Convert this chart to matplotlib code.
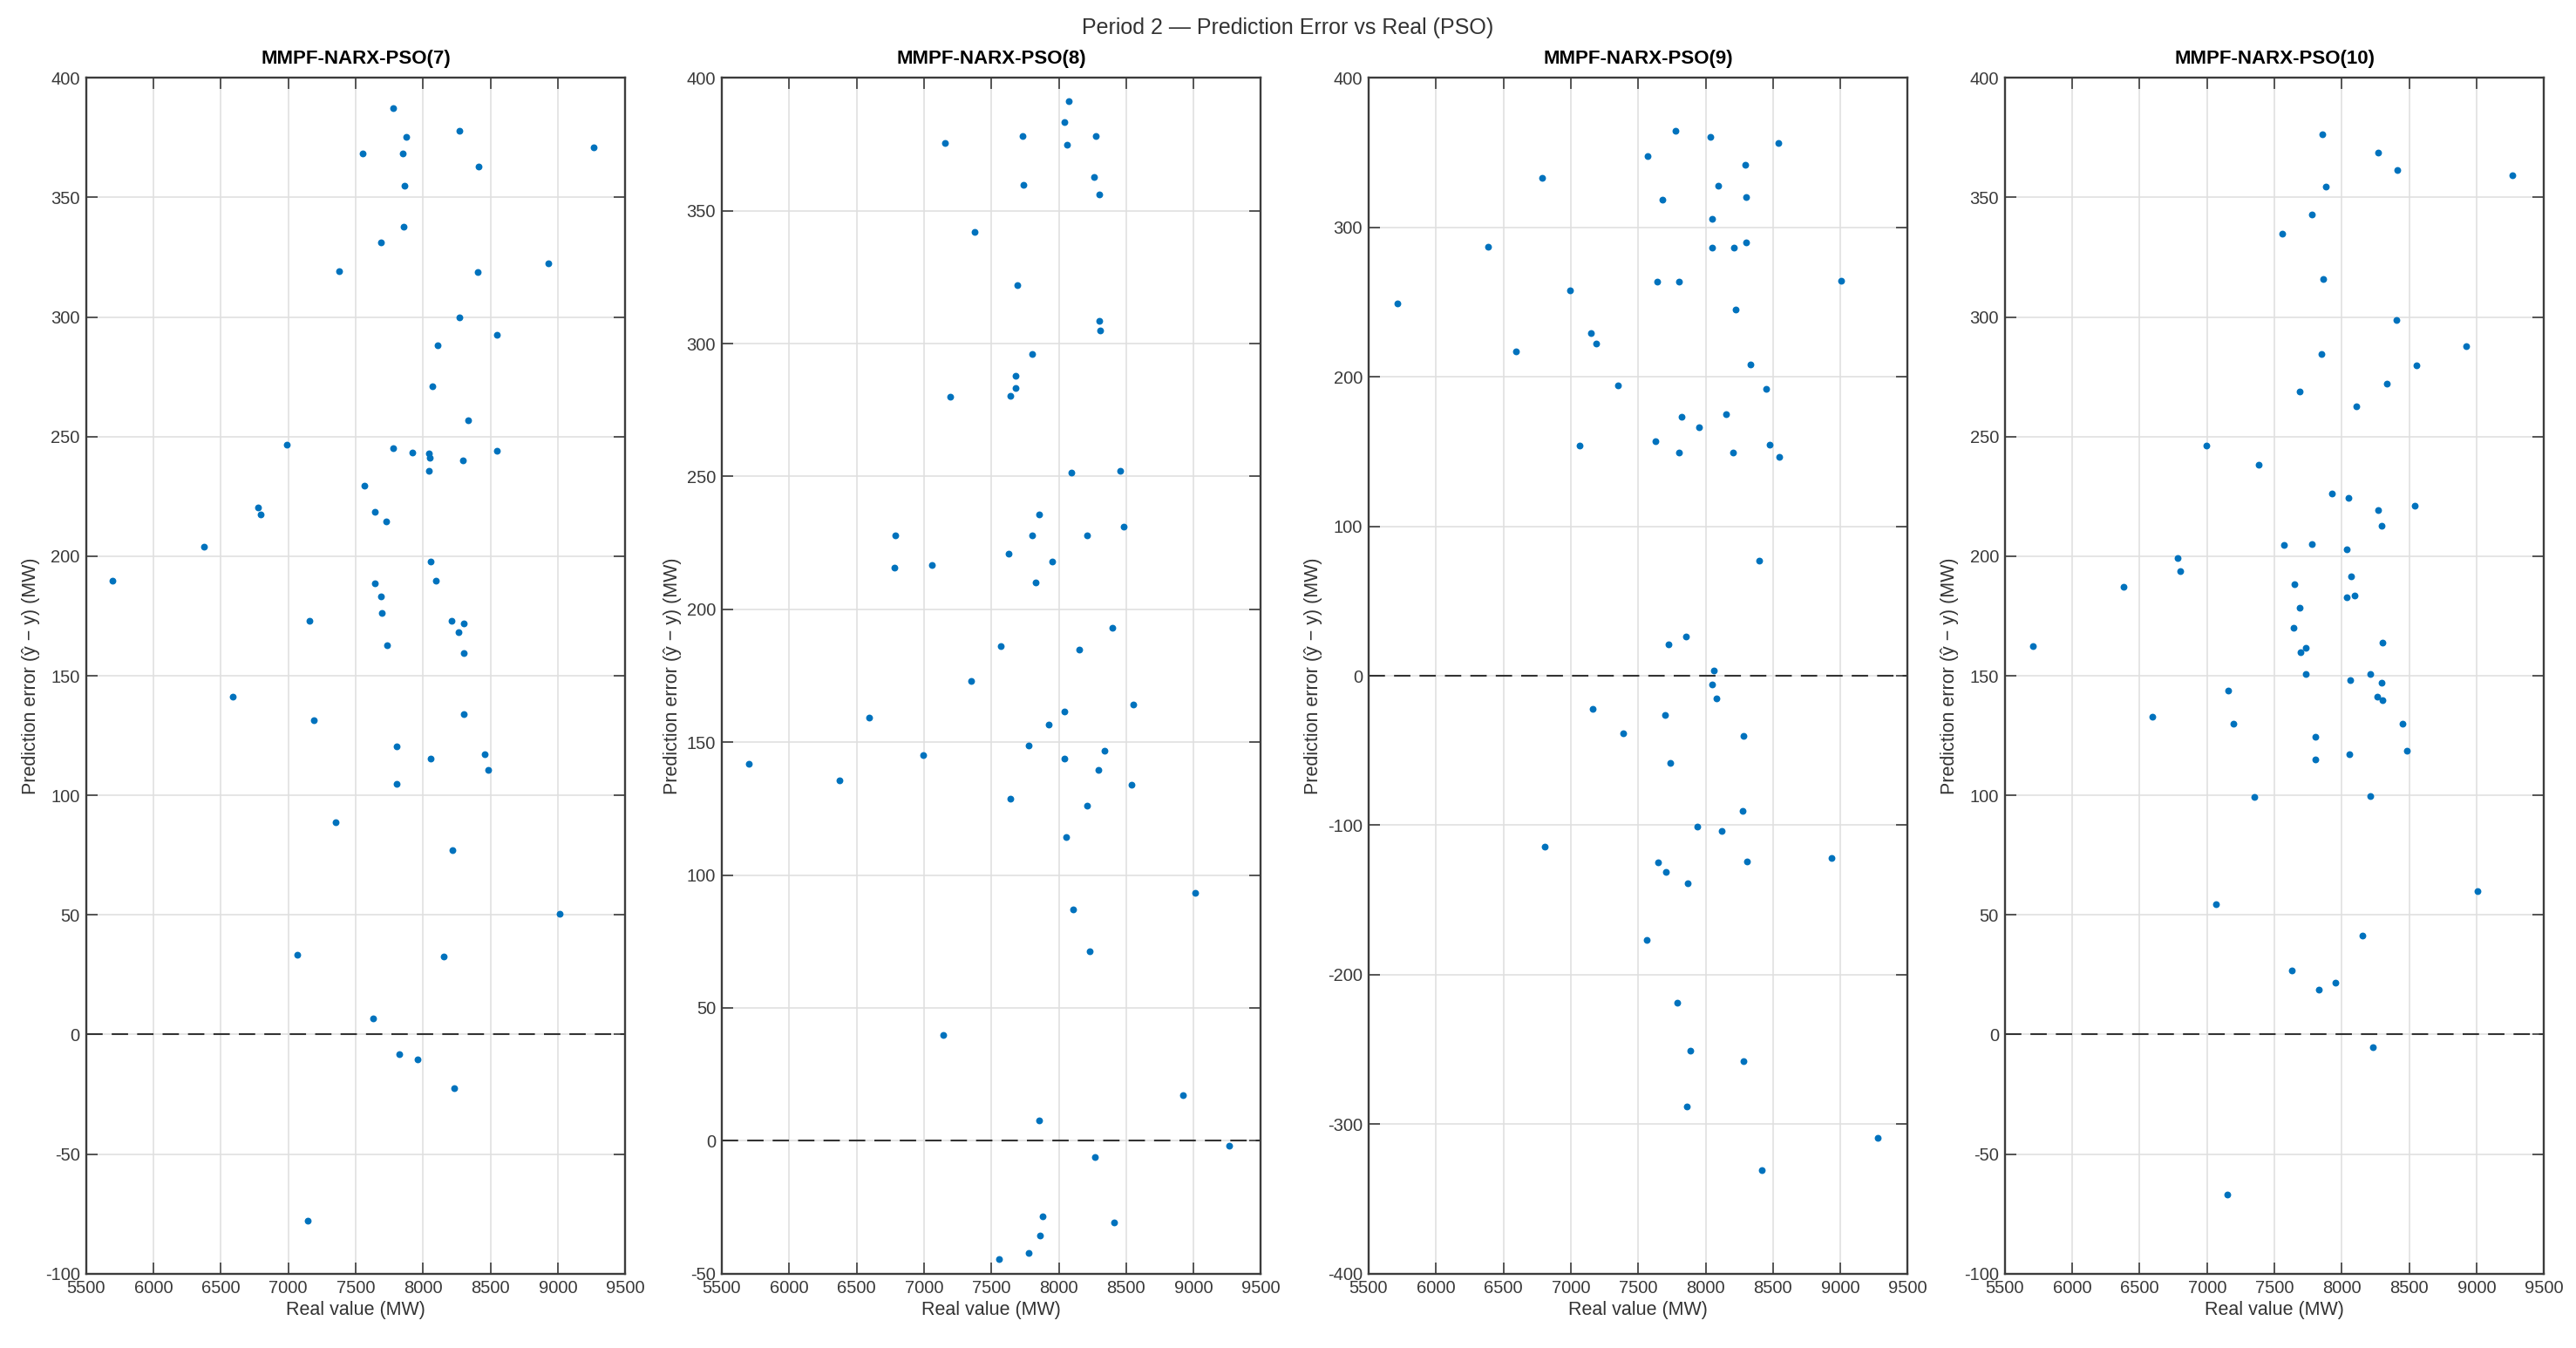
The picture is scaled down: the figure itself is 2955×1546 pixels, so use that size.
"""Period 2 prediction error vs real value, four MMPF-NARX-PSO variants (MATLAB-style panels)."""
import matplotlib
matplotlib.use("Agg")
import matplotlib.pyplot as plt
from matplotlib.ticker import MultipleLocator

plt.rcParams["font.family"] = ["Liberation Sans", "DejaVu Sans"]
plt.rcParams["axes.unicode_minus"] = False  # MATLAB prints a plain hyphen

TITLES = ["MMPF-NARX-PSO(7)", "MMPF-NARX-PSO(8)", "MMPF-NARX-PSO(9)", "MMPF-NARX-PSO(10)"]

x7 = [7780, 8270, 7878, 7555, 7851, 9269, 8415, 7862, 7853, 7688, 7378, 8403, 8928, 8270,
      8551, 8109, 8068, 8336, 6992, 7780, 7922, 8042, 8049, 8042, 8298, 8545, 7568, 6777,
      6796, 7644, 7729, 6376, 8058, 5699, 7641, 8093, 7685, 7694, 7157, 8213, 8302, 8264,
      7736, 8305, 6591, 7192, 8305, 7805, 8055, 8456, 8485, 7805, 7350, 8216, 9013, 7065,
      8153, 7631, 7827, 7957, 8232, 7144]
e7 = [387.3, 378, 375.2, 368.5, 368.3, 371, 363.1, 355.1, 337.8, 331.1, 319.2, 318.8, 322.5, 299.8,
      292.4, 288.1, 271.1, 257, 246.7, 245.3, 243.2, 242.8, 241.3, 235.8, 240, 244, 229.4, 220.3,
      217.5, 218.4, 214.5, 203.9, 197.8, 189.6, 188.8, 189.6, 183.1, 176.2, 172.8, 172.8, 171.9, 168.3,
      162.8, 159.6, 141.1, 131.3, 133.9, 120.3, 115.3, 117.2, 110.7, 104.7, 88.8, 77.1, 50.6, 33.5,
      32.7, 6.8, -8.1, -10.3, -22.5, -78]

x8 = [8071, 8039, 7729, 8273, 8061, 7154, 7735, 8264, 8298, 7378, 7691, 8302, 8305, 7805,
      7682, 7679, 7638, 7192, 8096, 8456, 7853, 8482, 6790, 7802, 8207, 7628, 7951, 7059,
      6781, 7827, 8400, 7571, 8153, 7350, 8551, 6591, 8039, 7925, 7777, 8340, 5699, 6992,
      8045, 8295, 6376, 8542, 7644, 8213, 8055, 9013, 8109, 8229, 7141, 8921, 7853, 9263,
      8270, 7881, 8412, 7859, 7774, 7555]
e8 = [391.1, 383.4, 378, 378.2, 374.8, 375.5, 359.9, 362.6, 356.2, 342.1, 322, 308.6, 305, 296,
      287.8, 283.4, 280.5, 279.9, 251.3, 252, 235.6, 231.2, 227.9, 228, 228, 221.1, 217.9, 216.8,
      215.6, 210.1, 193.1, 186.2, 184.7, 173, 164.2, 159.3, 161.7, 156.7, 148.8, 146.8, 141.7, 145.3,
      143.7, 139.5, 135.7, 134, 128.8, 126, 114.3, 93.3, 87, 71.3, 39.7, 17.2, 7.7, -2,
      -6.3, -28.5, -30.8, -35.8, -42.3, -44.5]

x9 = [7778, 8036, 8538, 7571, 8293, 6785, 8092, 7681, 8300, 8045, 6386, 8051, 8208, 8300,
      7643, 7803, 9007, 6996, 5711, 8224, 7147, 7191, 6594, 8334, 7351, 8447, 7825, 8149,
      7951, 7631, 7065, 8476, 7803, 8205, 8548, 8397, 7851, 7728, 8058, 8046, 8078, 7165,
      7696, 7386, 8283, 7740, 8273, 7936, 8119, 6805, 7648, 8308, 8933, 7705, 7869, 7563,
      7787, 7888, 8280, 7863, 9274, 8419]
e9 = [364.8, 360.7, 356.2, 347.8, 341.6, 332.9, 327.9, 318.3, 320.1, 305.8, 287.3, 286.4, 286.7, 289.7,
      263.8, 263.8, 264.4, 258.1, 249.2, 245.3, 229.5, 222.4, 217.3, 208.3, 194.3, 191.7, 173.2, 175,
      166, 156.8, 153.8, 154.4, 149.3, 149.6, 146.6, 76.9, 26, 21.2, 3.3, -5.6, -15.1, -22.3,
      -26.1, -38.3, -40.4, -58.2, -90.5, -100.9, -103.9, -114.5, -124.9, -124.3, -122, -131.2, -138.9, -176.9,
      -218.7, -251, -257.9, -288.1, -308.9, -330.6]

x10 = [7856, 8272, 8413, 9264, 7881, 7778, 7559, 7862, 8407, 8923, 7850, 8551, 8335, 7687,
       8106, 6995, 7380, 7925, 8047, 8541, 8272, 8294, 7571, 7778, 8038, 6782, 6798, 8069,
       6382, 7646, 8038, 8094, 7684, 7640, 5709, 8304, 7731, 7696, 7734, 8210, 8059, 8297,
       7158, 8265, 8302, 6597, 7195, 8452, 7805, 8480, 8055, 7805, 7351, 8208, 9009, 7063,
       8152, 7630, 7955, 7827, 8230, 7148]
e10 = [376.5, 368.7, 361.3, 359.2, 354.5, 343, 334.8, 315.8, 298.8, 287.7, 284.7, 279.8, 272.2, 269,
       262.5, 246.1, 238.3, 226.2, 224.3, 221.2, 219.3, 212.8, 204.8, 205.1, 202.7, 199.4, 193.8, 191.4,
       187.1, 188.2, 183, 183.7, 178.5, 170.1, 162.3, 163.8, 161.6, 159.7, 150.7, 150.7, 148.1, 147.2,
       143.7, 141.1, 139.9, 132.8, 130.1, 130.1, 124.5, 118.6, 117.3, 115.1, 99.4, 99.6, 59.8, 54.3,
       41.3, 26.8, 21.8, 18.6, -5.2, -67]

XS = [x7, x8, x9, x10]
ES = [e7, e8, e9, e10]
YLIMS = [(-100, 400), (-50, 400), (-400, 400), (-100, 400)]
YSTEP = [50, 50, 100, 50]

AX_COLOR = "#3c3c3c"
DOT = "#0072BD"

fig = plt.figure(figsize=(29.55, 15.46), dpi=100)
lefts = [0.0334, 0.2802, 0.5313, 0.7783]
for i in range(4):
    ax = fig.add_axes([lefts[i], 0.0552, 0.2093, 0.8870])
    ax.scatter(XS[i], ES[i], s=32, color=DOT, linewidths=0, zorder=3)
    ax.axhline(0, color="#333333", lw=1.5, ls=(0, (9, 5)), zorder=2)
    ax.set_xlim(5500, 9500)
    ax.set_ylim(*YLIMS[i])
    ax.xaxis.set_major_locator(MultipleLocator(500))
    ax.yaxis.set_major_locator(MultipleLocator(YSTEP[i]))
    ax.grid(True, color="#e0e0e0", lw=1.2, zorder=0)
    ax.set_axisbelow(True)
    ax.tick_params(direction="in", length=9.5, width=1.2, color=AX_COLOR,
                   labelsize=14.5, labelcolor="#3a3a3a", top=True, right=True, pad=5)
    for sp in ax.spines.values():
        sp.set_color(AX_COLOR)
        sp.set_linewidth(1.7)
    ax.set_title(TITLES[i], fontsize=16, fontweight="bold", pad=12)
    ax.set_xlabel("Real value (MW)", fontsize=15.5, color="#333333", labelpad=4)
    ax.set_ylabel("Prediction error (ŷ − y) (MW)", fontsize=15.5, color="#333333", labelpad=4)

fig.suptitle("Period 2 — Prediction Error vs Real (PSO)", fontsize=18, color="#333333", y=0.987)

fig.savefig("out.png", dpi=100)
